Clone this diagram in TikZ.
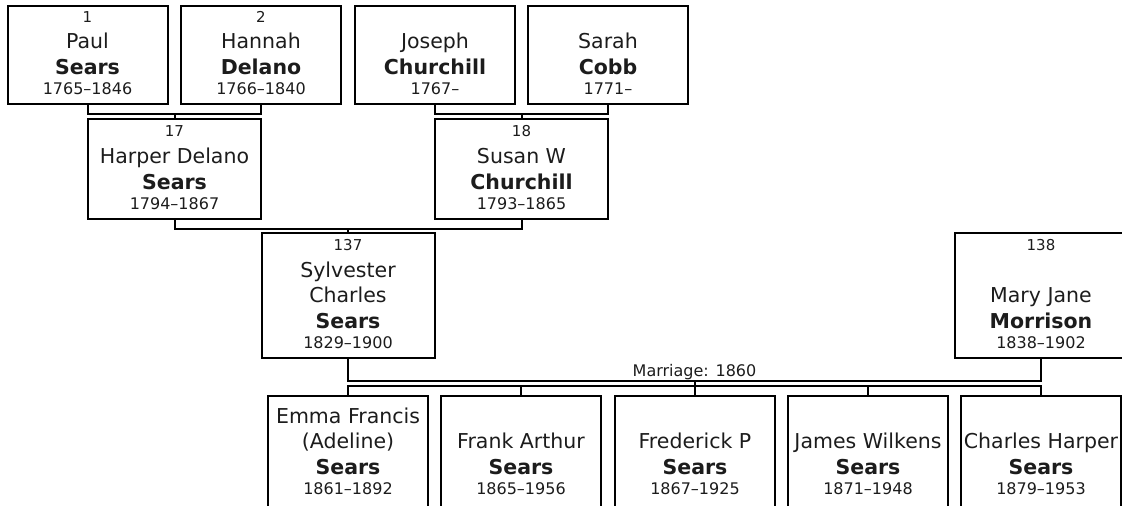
\documentclass[tikz,border=0pt]{standalone}
\usepackage{fontspec}
\setmainfont{DejaVu Sans}
\usetikzlibrary{positioning,calc}
\definecolor{ink}{HTML}{000000}
\definecolor{txt}{HTML}{1C1C1C}
\newcommand{\nmsize}{\fontsize{20.5}{25.5}\selectfont}
\newcommand{\yrsize}{\fontsize{16}{19}\selectfont}
\newcommand{\nosize}{\fontsize{15}{18}\selectfont}
\newcommand{\txtlift}{10pt}
% one person: name, centre, size style, number, text
\newcommand{\indiv}[5]{%
  \node[box, #3] (#1) at #2 {};
  \node[idno, yshift=-18pt] (#1-no) at (#1.north) {#4};
  \node[who, above=\txtlift of #1.south] (#1-tx) {#5};
}
% two parents and their child
\newcommand{\couple}[3]{%
  \draw[link] (#1.south) -- ++(0,9) coordinate (#3-bar) -| (#2.south);
  \draw[link] (#3.north) -- (#3.north |- #3-bar);
}

\begin{document}
\begin{tikzpicture}[x=1pt, y=-1pt,
    box/.style={draw=ink, line width=2pt, inner sep=0pt},
    gen1/.style={minimum width=160pt, minimum height=98pt},
    gen2/.style={minimum width=173pt, minimum height=100pt},
    gen3/.style={minimum width=173pt, minimum height=125pt},
    gen4/.style={minimum width=160pt, minimum height=118pt},
    idno/.style={anchor=base, inner sep=0pt, text=txt, font=\nosize},
    who/.style={align=center, inner sep=0pt, text=txt, font=\nmsize},
    link/.style={draw=ink, line width=2pt},
    wedlabel/.style={anchor=base, inner sep=0pt, yshift=4pt, text=txt, font=\yrsize}]
  \useasboundingbox (0,0) rectangle (1122,506);
  \clip (0,0) rectangle (1122,506);

  \indiv{p1}{(87.5,55)}{gen1}{1}{Paul\\\textbf{Sears}\\[-5pt]{\yrsize 1765--1846}}
  \indiv{p2}{(261,55)}{gen1}{2}{Hannah\\\textbf{Delano}\\[-5pt]{\yrsize 1766--1840}}
  \indiv{p3}{(435,55)}{gen1}{}{Joseph\\\textbf{Churchill}\\[-5pt]{\yrsize 1767--}}
  \indiv{p4}{(608,55)}{gen1}{}{Sarah\\\textbf{Cobb}\\[-5pt]{\yrsize 1771--}}

  \indiv{p17}{(174.5,169)}{gen2}{17}{Harper Delano\\\textbf{Sears}\\[-5pt]{\yrsize 1794--1867}}
  \indiv{p18}{(521.5,169)}{gen2}{18}{Susan W\\\textbf{Churchill}\\[-5pt]{\yrsize 1793--1865}}

  \indiv{p137}{(348,295.5)}{gen3}{137}{Sylvester\\Charles\\\textbf{Sears}\\[-5pt]{\yrsize 1829--1900}}
  \indiv{p138}{(1041,295.5)}{gen3}{138}{Mary Jane\\\textbf{Morrison}\\[-5pt]{\yrsize 1838--1902}}

  \renewcommand{\txtlift}{20pt}
  \indiv{c1}{(348,455)}{gen4}{}{Emma Francis\\(Adeline)\\\textbf{Sears}\\[-5pt]{\yrsize 1861--1892}}
  \indiv{c2}{(521,455)}{gen4}{}{Frank Arthur\\\textbf{Sears}\\[-5pt]{\yrsize 1865--1956}}
  \indiv{c3}{(695,455)}{gen4}{}{Frederick P\\\textbf{Sears}\\[-5pt]{\yrsize 1867--1925}}
  \indiv{c4}{(868,455)}{gen4}{}{James Wilkens\\\textbf{Sears}\\[-5pt]{\yrsize 1871--1948}}
  \indiv{c5}{(1041,455)}{gen4}{}{Charles Harper\\\textbf{Sears}\\[-5pt]{\yrsize 1879--1953}}

  \couple{p1}{p2}{p17}
  \couple{p3}{p4}{p18}
  \couple{p17}{p18}{p137}

  \draw[link] (p137.south) -- ++(0,21.5) coordinate (wed) -| (p138.south)
    node[wedlabel, pos=0.25] (wedno) {Marriage: 1860};
  \draw[link] (c1.north) -- ++(0,-9) coordinate (kidbar) -| (c5.north);
  \foreach \k in {c2,c4} { \draw[link] (\k.north) -- (\k.north |- kidbar); }
  \draw[link] (c3.north) -- (c3.north |- wed);
\end{tikzpicture}
\end{document}
